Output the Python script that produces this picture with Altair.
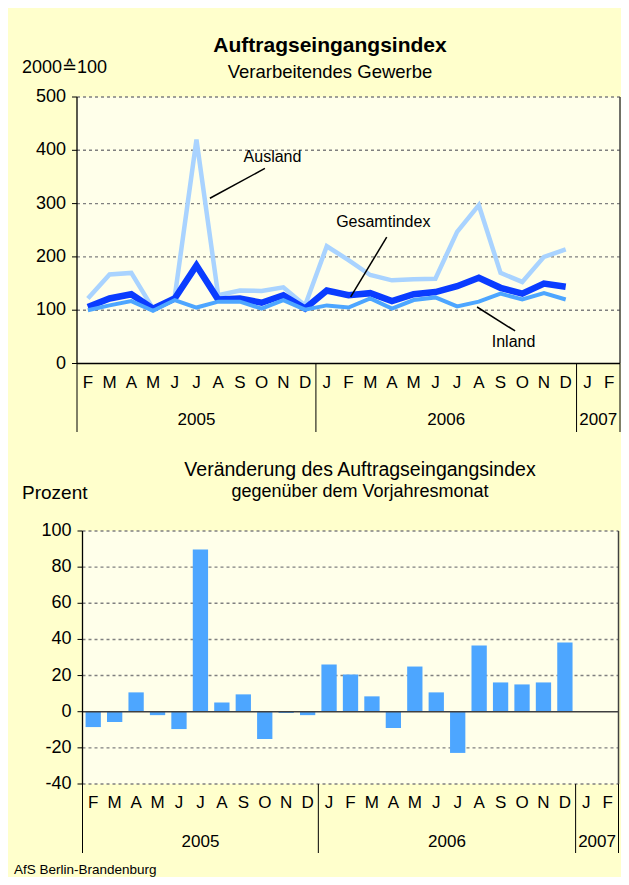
import altair as alt
import pandas as pd

# ---------------- data ----------------
months = ["F", "M", "A", "M", "J", "J", "A", "S", "O", "N", "D",
          "J", "F", "M", "A", "M", "J", "J", "A", "S", "O", "N", "D",
          "J", "F"]
years = ["2005", "2006", "2007"]
year_bounds = [0, 11, 23, 25]

ausland = [122, 167, 170, 103, 125, 420, 128, 137, 136, 143, 109,
           220, 194, 166, 156, 158, 159, 247, 297, 170, 153, 200, 214]
gesamt = [106, 122, 130, 103, 122, 184, 120, 122, 114, 128, 103,
          137, 128, 132, 117, 130, 134, 145, 161, 142, 131, 150, 144]
inland = [100, 109, 117, 99, 119, 105, 116, 116, 103, 119, 101,
          109, 105, 122, 103, 119, 124, 107, 116, 131, 120, 132, 120]
change = [-8.5, -5.7, 10.7, -1.9, -9.6, 89.7, 5.1, 9.6, -15.1, -0.7, -1.9,
          26.1, 20.6, 8.5, -9.0, 25.0, 10.7, -22.8, 36.6, 16.2, 15.1, 16.2, 38.3]

top_ticks = [0, 100, 200, 300, 400, 500]
bottom_ticks = [-40, -20, 0, 20, 40, 60, 80, 100]

ann_labels = ["Ausland", "Gesamtindex", "Inland"]
ann_x = [9.0, 14.1, 20.1]
ann_y = [387, 265, 40]
lead_x1 = [8.65, 14.26, 18.42]
lead_y1 = [366, 237, 106]
lead_x2 = [6.12, 12.6, 20.17]
lead_y2 = [310, 125, 61]

# ---------------- style ----------------
FONT = "Liberation Sans"
BG = "#FFFFCC"
PLOT_BG = "#FFFFEA"
C_AUS = "#A9D3FF"
C_GES = "#0A3CFF"
C_INL = "#4DA6FF"
C_BAR = "#4DA6FF"
GRID = "#808080"
W, H = 543, 687
n = len(months)

XT = alt.Scale(domain=[0, n], range=[0, W], nice=False, zero=False, padding=0)
YT = alt.Scale(domain=[top_ticks[0], top_ticks[-1]], range=[266.5, 0], nice=False, zero=False, padding=0)
XB = alt.Scale(domain=[0, n], range=[5.5, 541.5], nice=False, zero=False, padding=0)
YB = alt.Scale(domain=[bottom_ticks[0], bottom_ticks[-1]], range=[687, 434], nice=False, zero=False, padding=0)


def text_layer(txt, x, y, size=18, align="center", bold=False):
    return alt.Chart(pd.DataFrame({"t": [txt]})).mark_text(
        font=FONT, fontSize=size, align=align, baseline="middle", color="black",
        fontWeight="bold" if bold else "normal"
    ).encode(x=alt.value(x), y=alt.value(y), text="t:N")


def panel(XS, YS, ticks, ax_px, y_bottom_px, label_y, year_y, sep_end):
    frame = pd.DataFrame({"x0": [0], "x1": [n], "y0": [ticks[0]], "y1": [ticks[-1]]})
    bg = alt.Chart(frame).mark_rect(fill=PLOT_BG).encode(
        x=alt.X("x0:Q", scale=XS, axis=None), x2="x1:Q",
        y=alt.Y("y0:Q", scale=YS, axis=None), y2="y1:Q")
    grid_df = pd.DataFrame({"v": [t for t in ticks if t != 0], "x0": 0, "x1": n})
    grid = alt.Chart(grid_df).mark_rule(color=GRID, strokeDash=[3, 3], strokeWidth=1.4).encode(
        x=alt.X("x0:Q", scale=XS, axis=None), x2="x1:Q",
        y=alt.Y("v:Q", scale=YS, axis=None))
    right = alt.Chart(frame).mark_rule(color="#404040", strokeWidth=1.5).encode(
        x=alt.X("x1:Q", scale=XS, axis=None),
        y=alt.Y("y0:Q", scale=YS, axis=None), y2="y1:Q")
    sep = alt.Chart(pd.DataFrame({"b": year_bounds})).mark_rule(color="black", strokeWidth=1).encode(
        x=alt.X("b:Q", scale=XS, axis=None),
        y=alt.value(y_bottom_px), y2=alt.value(sep_end))
    mdf = pd.DataFrame({"m": months, "pos": [i + 0.5 for i in range(n)]})
    mlab = alt.Chart(mdf).mark_text(font=FONT, fontSize=17, color="black", baseline="middle").encode(
        x=alt.X("pos:Q", scale=XS, axis=None), y=alt.value(label_y), text="m:N")
    ydf = pd.DataFrame({"y": years,
                        "pos": [(year_bounds[i] + year_bounds[i + 1]) / 2 for i in range(len(years))]})
    ylab = alt.Chart(ydf).mark_text(font=FONT, fontSize=17, color="black", baseline="middle").encode(
        x=alt.X("pos:Q", scale=XS, axis=None), y=alt.value(year_y), text="y:N")
    # y axis: domain line, ticks and labels drawn through the y scale
    dom = alt.Chart(frame).mark_rule(color="black", strokeWidth=1.3).encode(
        x=alt.value(ax_px), y=alt.Y("y0:Q", scale=YS, axis=None), y2="y1:Q")
    tdf = pd.DataFrame({"v": ticks, "lbl": [str(t) for t in ticks]})
    tks = alt.Chart(tdf).mark_rule(color="black", strokeWidth=1).encode(
        x=alt.value(ax_px - 5), x2=alt.value(ax_px), y=alt.Y("v:Q", scale=YS, axis=None))
    tl = alt.Chart(tdf).mark_text(font=FONT, fontSize=18, color="black", align="right",
                                  baseline="middle").encode(
        x=alt.value(ax_px - 11), y=alt.Y("v:Q", scale=YS, axis=None), text="lbl:N")
    return [bg, grid, right], [sep, mlab, ylab, dom, tks, tl]


def series(values):
    return pd.DataFrame({"pos": [i + 0.5 for i in range(len(values))], "v": values})


# ---------------- top panel ----------------
under_t, over_t = panel(XT, YT, top_ticks, 0, 266.5, 286, 323, 335)

lines = []
for vals, col, sw in [(ausland, C_AUS, 4.5), (gesamt, C_GES, 6.5), (inland, C_INL, 4)]:
    lines.append(alt.Chart(series(vals)).mark_line(color=col, strokeWidth=sw).encode(
        x=alt.X("pos:Q", scale=XT, axis=None), y=alt.Y("v:Q", scale=YT, axis=None)))

xline_top = alt.Chart(pd.DataFrame({"v": [0], "x0": [0], "x1": [n]})).mark_rule(
    color="black", strokeWidth=1.5).encode(
    x=alt.X("x0:Q", scale=XT, axis=None), x2="x1:Q", y=alt.Y("v:Q", scale=YT, axis=None))

lead_df = pd.DataFrame({"x1": lead_x1, "y1": lead_y1, "x2": lead_x2, "y2": lead_y2})
leaders = alt.Chart(lead_df).mark_rule(color="black", strokeWidth=1.5).encode(
    x=alt.X("x1:Q", scale=XT, axis=None), x2="x2:Q",
    y=alt.Y("y1:Q", scale=YT, axis=None), y2="y2:Q")
ann_df = pd.DataFrame({"t": ann_labels, "x": ann_x, "y": ann_y})
ann = alt.Chart(ann_df).mark_text(font=FONT, fontSize=16, color="black", baseline="middle").encode(
    x=alt.X("x:Q", scale=XT, axis=None), y=alt.Y("y:Q", scale=YT, axis=None), text="t:N")

top = alt.layer(
    *under_t, *lines, xline_top, leaders, ann, *over_t,
    text_layer("Auftragseingangsindex", 253, -51, size=21, bold=True),
    text_layer("Verarbeitendes Gewerbe", 253, -25, size=18.5),
    text_layer("2000\u2259100", -55, -29, size=18, align="left"),
)

# ---------------- bottom panel ----------------
under_b, over_b = panel(XB, YB, bottom_ticks, 5.5, 687, 706, 745, 756)

cdf = series(change)
cdf["z"] = 0
bars = alt.Chart(cdf).mark_bar(color=C_BAR, size=15.3).encode(
    x=alt.X("pos:Q", scale=XB, axis=None),
    y=alt.Y("v:Q", scale=YB, axis=None), y2="z:Q")
zero_line = alt.Chart(pd.DataFrame({"v": [0], "x0": [0], "x1": [n]})).mark_rule(
    color="#404040", strokeWidth=1.5).encode(
    x=alt.X("x0:Q", scale=XB, axis=None), x2="x1:Q", y=alt.Y("v:Q", scale=YB, axis=None))

bottom = alt.layer(
    *under_b, bars, zero_line, *over_b,
    text_layer("Ver\u00e4nderung des Auftragseingangsindex", 283, 373, size=19.5),
    text_layer("gegen\u00fcber dem Vorjahresmonat", 283, 395, size=18),
    text_layer("Prozent", -55, 396, size=19, align="left"),
    text_layer("AfS Berlin-Brandenburg", -63, 773, size=13.5, align="left"),
)

chart = alt.layer(top, bottom).resolve_scale(
    x="independent", y="independent"
).properties(
    width=W, height=H,
    autosize=alt.AutoSizeParams(type="none"),
    padding={"left": 69, "top": 89, "right": 1, "bottom": 93},
).configure(background=BG).configure_view(stroke=None)

chart.save("out.html", embed_options={"renderer": "svg", "actions": False})
